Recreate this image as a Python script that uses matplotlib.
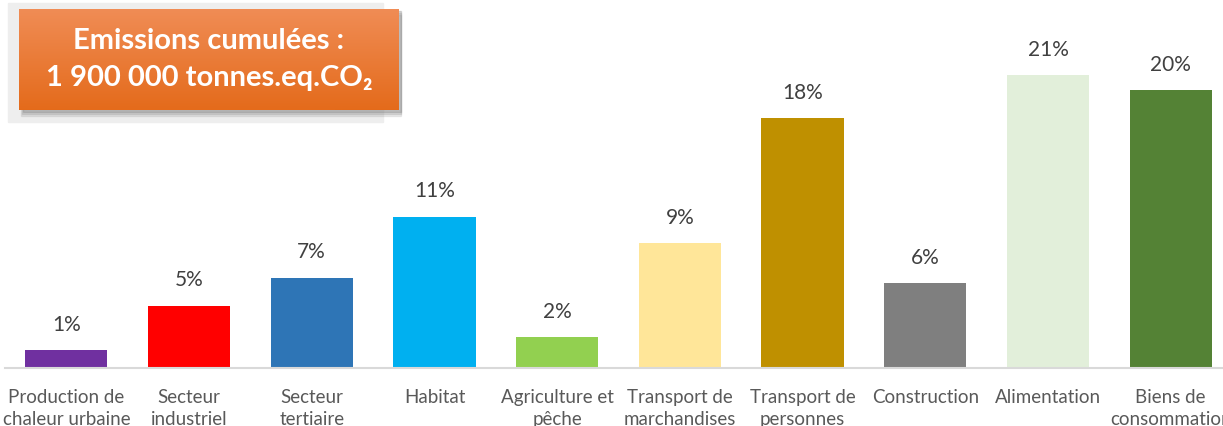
import numpy as np
import matplotlib
matplotlib.use("Agg")
import matplotlib.pyplot as plt
from matplotlib.patches import Rectangle

categories = ["Production de\nchaleur urbaine", "Secteur\nindustriel", "Secteur\ntertiaire",
              "Habitat", "Agriculture et\npêche", "Transport de\nmarchandises",
              "Transport de\npersonnes", "Construction", "Alimentation", "Biens de\nconsommation"]
values = [1.3, 4.5, 6.5, 10.9, 2.2, 9.0, 18.0, 6.1, 21.1, 20.0]
labels = ["1%", "5%", "7%", "11%", "2%", "9%", "18%", "6%", "21%", "20%"]
colors = ["#7030A0", "#FF0000", "#2E75B6", "#00B0F0", "#92D050",
          "#FFE699", "#BF9000", "#7F7F7F", "#E2EFDA", "#548235"]

plt.rcParams['font.family'] = ['Lato', 'DejaVu Sans']

W, H = 1223, 426
fig = plt.figure(figsize=(W / 100, H / 100), dpi=100)

# axes extends a little past the right edge, as in the cropped reference
ax = fig.add_axes([5 / W, (H - 368) / H, 1227 / W, 361 / H])
x = np.arange(len(categories))
bars = ax.bar(x, values, width=0.67, color=colors)
ax.bar_label(bars, labels=labels, padding=11, fontsize=15, color="#404040")
ax.set_xlim(-0.5, len(categories) - 0.5)
ax.set_ylim(0, 26)
ax.set_xticks(x)
ax.set_xticklabels(categories, fontsize=13.5, color="#595959", linespacing=1.35, va="top")
ax.tick_params(axis="x", length=0, pad=15)
ax.set_yticks([])
for s in ["top", "right", "left"]:
    ax.spines[s].set_visible(False)
ax.spines["bottom"].set_color("#D9D9D9")
ax.spines["bottom"].set_linewidth(1.5)

# title box: light backdrop, shadow, orange gradient
fig.patches.append(Rectangle((8 / W, 1 - 122 / H), 375 / W, 119 / H,
                             transform=fig.transFigure, color="#EEEEEE", zorder=1))
for i, a in enumerate([0.15, 0.2, 0.3]):
    fig.patches.append(Rectangle(((21 + i) / W, 1 - (116 - i * 2) / H), (380 - i) / W, 101 / H,
                                 transform=fig.transFigure, color="#808080", alpha=a, zorder=2))
gax = fig.add_axes([19 / W, 1 - 110 / H, 380 / W, 101 / H], zorder=3)
grad = np.linspace(0, 1, 100).reshape(-1, 1)
cmap = matplotlib.colors.LinearSegmentedColormap.from_list("o", ["#F08C55", "#E46B1B"])
gax.imshow(grad, aspect="auto", cmap=cmap, extent=[0, 1, 0, 1], origin="upper")
gax.set_axis_off()
gax.text(0.5, 0.68, "Emissions cumulées :", ha="center", va="center", color="white",
         fontsize=21, fontweight="bold", transform=gax.transAxes)
gax.text(0.5, 0.32, "1 900 000 tonnes.eq.CO₂", ha="center", va="center", color="white",
         fontsize=21, fontweight="bold", transform=gax.transAxes)

fig.savefig("out.png", dpi=100)
